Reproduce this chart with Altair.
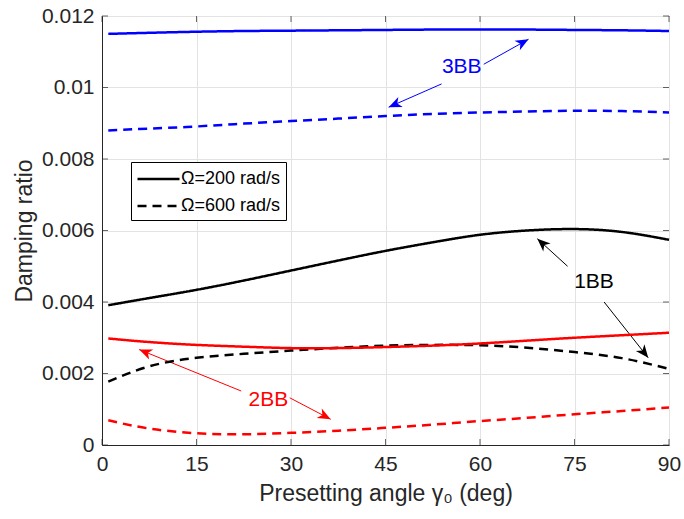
import math
import altair as alt
import pandas as pd

# ---------------- data ----------------
angle = [1, 7.5, 15, 22.5, 30, 37.5, 45, 52.5, 60, 67.5, 75, 82.5, 90]

bb3_200 = [0.01150, 0.01153, 0.01156, 0.01158, 0.01159, 0.01160, 0.01161,
           0.01162, 0.01162, 0.01162, 0.01161, 0.01160, 0.01158]
bb3_600 = [0.00880, 0.00885, 0.00891, 0.00899, 0.00906, 0.00913, 0.00920,
           0.00926, 0.00930, 0.00933, 0.00935, 0.00934, 0.00930]
bb1_200 = [0.00391, 0.00411, 0.00434, 0.00460, 0.00488, 0.00516, 0.00543,
           0.00567, 0.00588, 0.00600, 0.00604, 0.00596, 0.00574]
bb1_600 = [0.00177, 0.00220, 0.00244, 0.00255, 0.00264, 0.00272, 0.00278,
           0.00280, 0.00279, 0.00272, 0.00260, 0.00243, 0.00213]
bb2_200 = [0.00298, 0.00288, 0.00280, 0.00275, 0.00271, 0.00271, 0.00274,
           0.00278, 0.00284, 0.00292, 0.00300, 0.00307, 0.00314]
bb2_600 = [0.00069, 0.00046, 0.00033, 0.00030, 0.00034, 0.00040, 0.00048,
           0.00057, 0.00067, 0.00076, 0.00086, 0.00095, 0.00105]

modes = ["1BB", "2BB", "3BB"]
mode_colors = ["#000000", "#ff0000", "#0000ff"]
speeds = ["Ω=200 rad/s", "Ω=600 rad/s"]

# annotation arrows: tail -> tip (data coordinates)
arrow_mode = ["3BB", "3BB", "1BB", "1BB", "2BB", "2BB"]
arrow_x1 = [60.6, 53.9, 73.9, 79.7, 22.1, 29.8]
arrow_y1 = [0.01065, 0.01010, 0.00500, 0.00400, 0.00151, 0.00132]
arrow_x2 = [67.7, 45.5, 69.1, 86.7, 5.9, 36.3]
arrow_y2 = [0.01135, 0.00945, 0.00577, 0.00244, 0.00267, 0.00072]

label_text = ["3BB", "1BB", "2BB"]
label_x = [57.1, 78.1, 26.4]
label_y = [0.01058, 0.00455, 0.00127]

x_ticks = [0, 15, 30, 45, 60, 75, 90]
y_ticks = [0, 0.002, 0.004, 0.006, 0.008, 0.010, 0.012]

# ---------------- tables ----------------
rows = []
for mode, speed, vals in [("3BB", speeds[0], bb3_200), ("3BB", speeds[1], bb3_600),
                          ("1BB", speeds[0], bb1_200), ("1BB", speeds[1], bb1_600),
                          ("2BB", speeds[0], bb2_200), ("2BB", speeds[1], bb2_600)]:
    for a, v in zip(angle, vals):
        rows.append({"angle": a, "ratio": v, "mode": mode, "speed": speed})
df = pd.DataFrame(rows)

W, H = 567, 429
XMAX, YMAX = 90.0, 0.012

def head_angle(x1, y1, x2, y2):
    dx = (x2 - x1) / XMAX * W
    dy = -(y2 - y1) / YMAX * H
    return math.degrees(math.atan2(dx, -dy)) % 360

arrows = pd.DataFrame({
    "mode": arrow_mode, "angle": arrow_x1, "ratio": arrow_y1,
    "x2": arrow_x2, "y2": arrow_y2,
})
heads = pd.DataFrame({
    "mode": arrow_mode, "angle": arrow_x2, "ratio": arrow_y2,
    "rot": [head_angle(a, b, c, d) for a, b, c, d in zip(arrow_x1, arrow_y1, arrow_x2, arrow_y2)],
})
labels = pd.DataFrame({"mode": label_text, "angle": label_x, "ratio": label_y, "txt": label_text})

FONT = "Liberation Sans"
XT = "Presetting angle γ₀ (deg)"
YT = "Damping ratio"

xscale = alt.Scale(domain=[0, XMAX], nice=False, zero=False)
yscale = alt.Scale(domain=[0, YMAX], nice=False, zero=False)
cscale = alt.Scale(domain=modes, range=mode_colors)

X = lambda f: alt.X(f, scale=xscale, title=XT,
                    axis=alt.Axis(values=x_ticks, labelPadding=8, titlePadding=8,
                                  labelFlush=False))
Y = lambda f: alt.Y(f, scale=yscale, title=YT,
                    axis=alt.Axis(values=y_ticks, format="~g", labelPadding=8,
                                  titlePadding=5, labelFlush=False))

lines = alt.Chart(df).mark_line(strokeWidth=2.5, interpolate="natural").encode(
    x=X("angle:Q"),
    y=Y("ratio:Q"),
    color=alt.Color("mode:N", scale=cscale, legend=None),
    strokeDash=alt.StrokeDash(
        "speed:N",
        scale=alt.Scale(domain=speeds, range=[[1, 0], [9, 6]]),
        legend=alt.Legend(
            title=None, orient="none", legendX=29, legendY=146,
            symbolType="M-1,0L3,0", symbolStrokeColor="black", symbolStrokeWidth=2.5,
            symbolSize=441, labelFont=FONT, labelFontSize=18, labelColor="black",
            labelOffset=21, rowPadding=6, padding=5,
            strokeColor="black", fillColor="white", cornerRadius=0,
        ),
    ),
)

shafts = alt.Chart(arrows).mark_rule(strokeWidth=1).encode(
    x=X("angle:Q"), y=Y("ratio:Q"), x2="x2:Q", y2="y2:Q",
    color=alt.Color("mode:N", scale=cscale, legend=None),
)

head_path = "M0,0L-0.42,1L0,0.72L0.42,1Z"
arrowheads = alt.Chart(heads).mark_point(
    shape=head_path, filled=True, size=676, opacity=1, strokeWidth=0
).encode(
    x=X("angle:Q"), y=Y("ratio:Q"),
    angle=alt.Angle("rot:Q", scale=None),
    color=alt.Color("mode:N", scale=cscale, legend=None),
)

texts = alt.Chart(labels).mark_text(font=FONT, fontSize=21).encode(
    x=X("angle:Q"), y=Y("ratio:Q"), text="txt:N",
    color=alt.Color("mode:N", scale=cscale, legend=None),
)

# inward tick marks on all four sides
xt = pd.DataFrame({"angle": x_ticks, "ratio": [0.0] * len(x_ticks)})
xt_top = pd.DataFrame({"angle": x_ticks, "ratio": [YMAX] * len(x_ticks)})
yt = pd.DataFrame({"angle": [0.0] * len(y_ticks), "ratio": y_ticks})
yt_right = pd.DataFrame({"angle": [XMAX] * len(y_ticks), "ratio": y_ticks})

tick_col = "#262626"
t1 = alt.Chart(xt).mark_tick(orient="vertical", size=6, thickness=1, yOffset=-3, color=tick_col).encode(
    x=X("angle:Q"), y=Y("ratio:Q"))
t2 = alt.Chart(xt_top).mark_tick(orient="vertical", size=6, thickness=1, yOffset=3, color=tick_col).encode(
    x=X("angle:Q"), y=Y("ratio:Q"))
t3 = alt.Chart(yt).mark_tick(orient="horizontal", size=6, thickness=1, xOffset=3, color=tick_col).encode(
    x=X("angle:Q"), y=Y("ratio:Q"))
t4 = alt.Chart(yt_right).mark_tick(orient="horizontal", size=6, thickness=1, xOffset=-3, color=tick_col).encode(
    x=X("angle:Q"), y=Y("ratio:Q"))

chart = alt.layer(t1, t2, t3, t4, shafts, arrowheads, lines, texts).properties(
    width=W, height=H,
    autosize=alt.AutoSizeParams(type="none"),
    padding={"left": 102, "top": 16, "right": 15, "bottom": 74},
    background="white",
).configure_axis(
    labelFont=FONT, labelFontSize=21, labelColor="#262626",
    titleFont=FONT, titleFontSize=23, titleColor="#262626", titleFontWeight="normal",
    domainColor="#262626", gridColor="#e3e3e3", ticks=False,
).configure_view(stroke="#262626", strokeWidth=1)

chart.save("out.html", embed_options={"renderer": "svg", "actions": False})
